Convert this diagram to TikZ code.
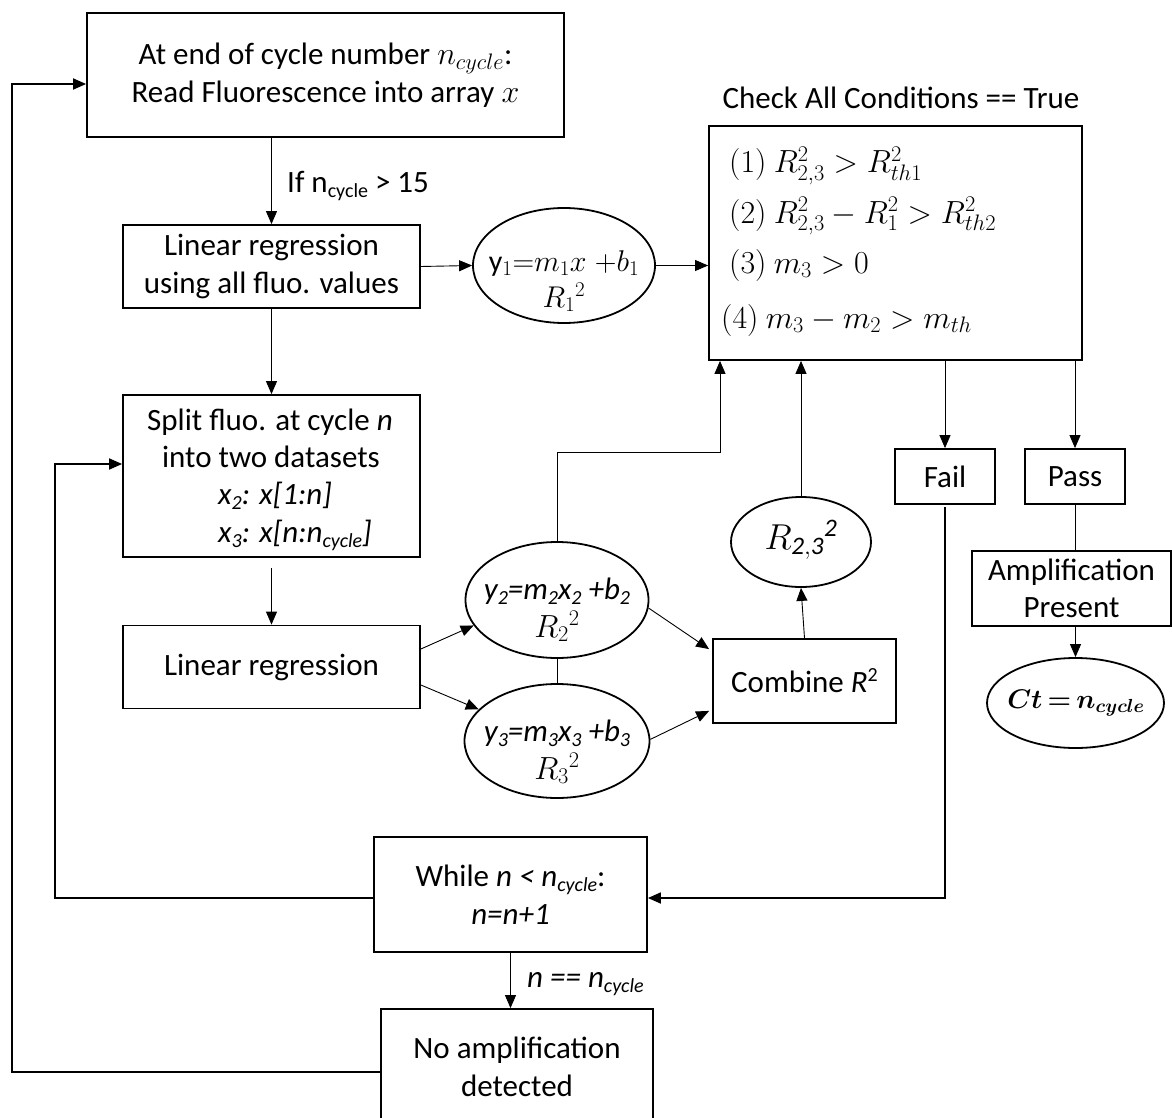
\RequirePackage{fix-cm}
\documentclass[tikz,border=0pt]{standalone}
\usepackage{amsmath}
\usepackage{fontspec}
\setmainfont{Carlito}
\usetikzlibrary{arrows.meta,shapes.geometric,calc}
\newcommand\lo[1]{\raisebox{-5pt}{\fontsize{20}{20}\selectfont #1}}
\newcommand\hi[1]{\raisebox{11pt}{\fontsize{20}{20}\selectfont #1}}
\newcommand\mfont{\fontsize{32}{38}\selectfont}
\tikzset{
  box/.style={draw, line width=1.8pt, inner sep=0pt, align=center},
  oval/.style={draw, ellipse, line width=1.8pt, inner sep=0pt},
  conn/.style={line width=0.9pt},
  arr/.style={conn, -{Triangle[length=13pt,width=11pt]}},
  thk/.style={line width=1.8pt},
  thkarr/.style={thk, -{Triangle[length=13pt,width=11pt]}},
  lbl/.style={inner sep=0pt},
}
\begin{document}
\begin{tikzpicture}[x=1pt, y=-1pt, font=\fontsize{31}{37.5}\selectfont]
\fill[white] (0,0) rectangle (1172,1118);
\useasboundingbox (0,0) rectangle (1172,1118);
\clip (0,0) rectangle (1172,1118);

% nodes
\node[box, minimum width=477pt, minimum height=124pt] (A) at (325.5,75)
  {At end of cycle number {\mfont$n_{cycle}$}:\\Read Fluorescence into array {\mfont$x$}};
\node[box, minimum width=297pt, minimum height=83pt] (B) at (271.5,266.5)
  {Linear regression\\using all fluo. values};
\node[oval, minimum width=182pt, minimum height=115pt] (E1) at (564,265.5) {};
\node[lbl, align=center, font=\fontsize{30}{36}\selectfont] (E1t) at (564,281)
  {$\mathrm{y}_1{=}m_1x\;{+}b_1$\\$R_1{}^2$};
\node[box, minimum width=373pt, minimum height=234pt] (cond) at (895.5,243) {};
\node[lbl, anchor=base] (title) at (901,109) {Check All Conditions == True};
\node[lbl, anchor=base west, font=\mfont] (c1) at (729,173) {$(1)\ R^2_{2,3} > R^2_{th1}$};
\node[lbl, anchor=base west, font=\mfont] (c2) at (729,223) {$(2)\ R^2_{2,3} - R^2_1 > R^2_{th2}$};
\node[lbl, anchor=base west, font=\mfont] (c3) at (729,273) {$(3)\ m_3 > 0$};
\node[lbl, anchor=base west, font=\mfont] (c4) at (721,328) {$(4)\ m_3 - m_2 > m_{th}$};

\node[box, minimum width=297pt, minimum height=162pt] (C) at (271.5,476) {};
\node[lbl, anchor=base] (C1) at (270,430) {Split fluo. at cycle \textit{n}};
\node[lbl, anchor=base] (C2) at (271,467) {into two datasets};
\node[lbl, anchor=base west] (C3) at (218,504) {\textit{x\lo{2}: x[1:n]}};
\node[lbl, anchor=base west] (C4) at (218,542) {\textit{x\lo{3}: x[n:n\lo{cycle}]}};

\node[box, minimum width=297pt, minimum height=83pt] (D) at (271.5,667) {Linear regression};
\node[oval, minimum width=183pt, minimum height=116pt] (E2) at (557,600) {};
\node[lbl, align=center] (E2t) at (557,610)
  {\textit{y\lo{2}=m\lo{2}x\lo{2} +b\lo{2}}\\{\mfont$R_2{}^2$}};
\node[oval, minimum width=185pt, minimum height=114pt] (E3) at (557,741) {};
\node[lbl, align=center] (E3t) at (557,752)
  {\textit{y\lo{3}=m\lo{3}x\lo{3} +b\lo{3}}\\{\mfont$R_3{}^2$}};
\node[box, minimum width=183pt, minimum height=84pt] (Comb) at (804.5,681) {Combine \textit{R}\hi{2}};
\node[oval, minimum width=140pt, minimum height=90pt] (R23) at (801,542) {};
\node[lbl, font=\fontsize{36}{40}\selectfont] (R23t) at (801,540) {$R_{\mathit{2,3}}{}^{\mathit{2}}$};

\node[box, minimum width=100pt, minimum height=55pt] (Fail) at (945,476.5) {Fail};
\node[box, minimum width=100pt, minimum height=55pt] (Pass) at (1075,476.5) {Pass};
\node[box, minimum width=199pt, minimum height=75pt] (Amp) at (1071.5,588.5) {Amplification\\Present};
\node[oval, minimum width=177pt, minimum height=90pt] (Ct) at (1075.5,703) {};
\node[lbl, font=\fontsize{27}{32}\selectfont] (Ctt) at (1076,703) {$\boldsymbol{Ct\,{=}\,n_{cycle}}$};

\node[box, minimum width=273pt, minimum height=115pt] (While) at (510.5,894.5)
  {While \textit{n < n\lo{cycle}}:\\\textit{n=n+1}};
\node[box, minimum width=272pt, minimum height=116pt] (NoAmp) at (517,1067)
  {No amplification\\detected};

% labels
\node[lbl, anchor=base west] (ifl) at (287,193) {If n\lo{cycle} > 15};
\node[lbl, anchor=base west] (eql) at (527,987) {\textit{n == n\lo{cycle}}};

% coordinates
\coordinate (lo1) at (12,1072);
\coordinate (lo2) at (12,84);
\coordinate (li1) at (55,898);
\coordinate (li2) at (55,464);
\coordinate (cd) at (271.5,568);
\coordinate (eu1) at (557,452);
\coordinate (eu2) at (720,452);
\coordinate (fw) at (945,898);
\coordinate (fs) at (945,507);

% connectors
\draw[arr] (A.south -| B.north) -- (B.north);
\draw[arr] (B.east) -- (E1.west);
\draw[arr] (E1.east) -- (cond.west |- E1.east);
\draw[arr] (B.south) -- (C.north);
\draw[arr] (cd) -- (D.north);
\draw[arr] ($(D.east)+(0,-18)$) -- (E2.197);
\draw[arr] ($(D.east)+(0,18)$) -- (E3.158);
\draw[conn] (E2.south) -- (E3.north);
\draw[arr] (E2.-5) -- ($(Comb.north west)+(-3,11)$);
\draw[arr] (E3.1) -- ($(Comb.south west)+(-3,-13)$);
\draw[arr] (E2.north) -- (eu1) -- (eu2) -- (eu2 |- cond.south);
\draw[arr] (Comb.north) -- (R23.south);
\draw[arr] (R23.north) -- (R23.north |- cond.south);
\draw[arr] (Fail.north |- cond.south) -- (Fail.north);
\draw[arr] (Pass.north |- cond.south) -- (Pass.north);
\draw[conn] (Pass.south) -- (Pass.south |- Amp.north);
\draw[arr] (Ct.north |- Amp.south) -- (Ct.north);
\draw[arr] (While.south) -- (While.south |- NoAmp.north);
\draw[thkarr] (fs) -- (fw) -- (While.east |- fw);
\draw[thkarr] (While.west |- li1) -- (li1) -- (li2) -- (C.west |- li2);
\draw[thkarr] (NoAmp.west |- lo1) -- (lo1) -- (lo2) -- (A.west |- lo2);
\end{tikzpicture}
\end{document}
